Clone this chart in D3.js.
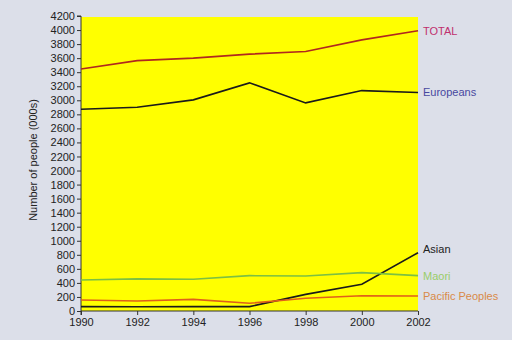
<!DOCTYPE html>
<html><head><meta charset="utf-8">
<script src="https://cdn.jsdelivr.net/npm/d3@7"></script>
<style>body{margin:0;background:#dcdfe9;}svg{display:block;font-family:"Liberation Sans",Arial,sans-serif;}</style>
</head><body>
<svg id="c" width="512" height="340"></svg>
<script>
const years = [1990, 1992, 1994, 1996, 1998, 2000, 2002];
const yTicks = d3.range(0, 4201, 200);
const xTicks = years;
const total = [3445, 3565, 3600, 3657, 3695, 3860, 3990];
const europeans = [2873, 2901, 3006, 3248, 2963, 3138, 3110];
const maori = [441, 458, 451, 503, 499, 546, 503];
const pacific = [157, 142, 166, 110, 181, 218, 214];
const asian = [62, 60, 62, 62, 237, 380, 830];
const seriesNames = ["TOTAL", "Europeans", "Asian", "Maori", "Pacific Peoples"];
const seriesData = [total, europeans, asian, maori, pacific];
const lineColors = ["#b0281e", "#1a1a1a", "#1a1a1a", "#7cc042", "#e0601a"];
const labelColors = ["#c0306e", "#4848a0", "#222222", "#9acd6a", "#d98a48"];
const labelYOffsets = [0, 0, -4, 0, 0];

const svg = d3.select("#c");
const x = d3.scaleLinear().domain([1990, 2002]).range([81, 418]);
const y = d3.scaleLinear().domain([0, 4200]).range([311, 16]);

svg.append("rect").attr("x", x(1990)).attr("y", y(4200) + 1)
  .attr("width", x(2002) - x(1990)).attr("height", y(0) - y(4200) - 1)
  .attr("fill", "#ffff00");

const yAxis = svg.append("g").attr("transform", `translate(${x(1990)},0)`)
  .call(d3.axisLeft(y).tickValues(yTicks).tickSize(4).tickPadding(2).tickFormat(d3.format("d")));
yAxis.selectAll("text").attr("font-size", 11).attr("fill", "#222");
yAxis.selectAll("line,path").attr("stroke", "#333");
yAxis.select(".domain").attr("d", `M-4,${y(4200)}H0V${y(0)+4}`);

const xAxis = svg.append("g").attr("transform", `translate(0,${y(0)})`)
  .call(d3.axisBottom(x).tickValues(xTicks).tickSize(4).tickPadding(3.5).tickFormat(d3.format("d")));
xAxis.selectAll("text").attr("font-size", 11).attr("fill", "#222");
xAxis.selectAll("line,path").attr("stroke", "#333");
xAxis.select(".domain").attr("d", `M${x(1990)},0H${x(2002)}`);

svg.append("text").attr("transform", "translate(37,160) rotate(-90)")
  .attr("text-anchor", "middle").attr("font-size", 11).attr("fill", "#222")
  .text("Number of people (000s)");

const line = d3.line().x((d, i) => x(years[i])).y(d => y(d));
seriesData.forEach((s, k) => {
  svg.append("path").datum(s).attr("d", line).attr("fill", "none")
    .attr("stroke", lineColors[k]).attr("stroke-width", 1.6);
  svg.append("text").attr("x", x(2002) + 5).attr("y", y(s[s.length - 1]) + labelYOffsets[k])
    .attr("dy", "0.35em").attr("font-size", 11).attr("fill", labelColors[k])
    .text(seriesNames[k]);
});
</script>
</body></html>
